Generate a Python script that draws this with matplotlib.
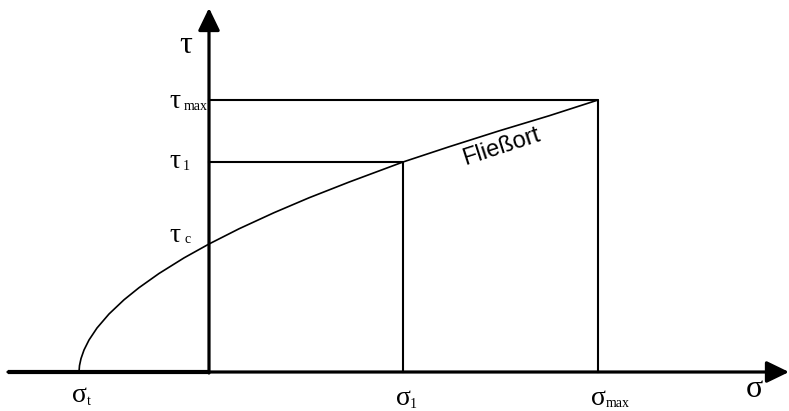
import matplotlib
matplotlib.use("Agg")
from matplotlib import pyplot as plt

# stresses on the sigma axis and shear stresses on the tau axis
sigma_t = -130
sigma_1 = 194
sigma_max = 389
tau_c = 128
tau_1 = 210
tau_max = 272

# yield locus (Fliessort) read point by point
locus_sigma = [-130, -129.5, -128, -125, -120, -112, -100, -85, -70, -50, -25, 0,
               30, 65, 100, 140, 194, 240, 290, 340, 389]
locus_tau = [0, 6.4, 13.4, 22.0, 32.0, 44.0, 58.0, 72.2, 84.3, 98.5, 114.1, 128,
             143.2, 159.3, 174.2, 189.9, 210, 225.2, 241.1, 256.2, 272]

serif = "Liberation Serif"
sans = "Liberation Sans"

fig = plt.figure(figsize=(7.89, 4.11), dpi=100)
ax = fig.add_axes([0, 0, 1, 1])
ax.set_xlim(-209, 580)
ax.set_ylim(-39, 372)
ax.axis("off")

# axes with arrow heads
arrow = dict(arrowstyle="-|>,head_length=0.68,head_width=0.33", mutation_scale=20,
             lw=2.3, color="black", shrinkA=0, shrinkB=0)
ax.annotate("", xy=(580, 0), xytext=(-201, 0), arrowprops=arrow, annotation_clip=False)
ax.annotate("", xy=(0, 364), xytext=(0, -1), arrowprops=arrow, annotation_clip=False)
ax.plot([-201, 0], [0, 0], color="black", lw=3.0, solid_capstyle="butt")

# rectangles for point 1 and point max
ax.plot([0, sigma_1, sigma_1], [tau_1, tau_1, 0], color="black", lw=1.5)
ax.plot([0, sigma_max, sigma_max], [tau_max, tau_max, 0], color="black", lw=1.5)

# yield locus
ax.plot(locus_sigma, locus_tau, color="black", lw=1.2, solid_joinstyle="round")
ax.text(294, 219, "Fließort", family=sans, fontsize=17, rotation=18,
        ha="center", va="baseline", rotation_mode="anchor")

# axis names
ax.text(-23, 319, "τ", family=serif, fontsize=23, ha="center", va="baseline")
ax.text(545, -25, "σ", family=serif, fontsize=23, ha="center", va="baseline")

# labels with subscripts: (main letter, sub, x, y, sub x, sub y)
labels = [
    ("τ", "max", -34, 264, -13, 262),
    ("τ", "1", -34, 204, -23, 202),
    ("τ", "c", -34, 130, -21, 129),
    ("σ", "t", -130, -30, -120, -33),
    ("σ", "1", sigma_1, -33, 204, -36),
    ("σ", "max", sigma_max, -33, 409, -35),
]
for main, sub, x, y, sx, sy in labels:
    ax.text(x, y, main, family=serif, fontsize=20, ha="center", va="baseline")
    ax.text(sx, sy, sub, family=serif, fontsize=10, ha="center", va="baseline")

fig.savefig("out.png", dpi=100)
